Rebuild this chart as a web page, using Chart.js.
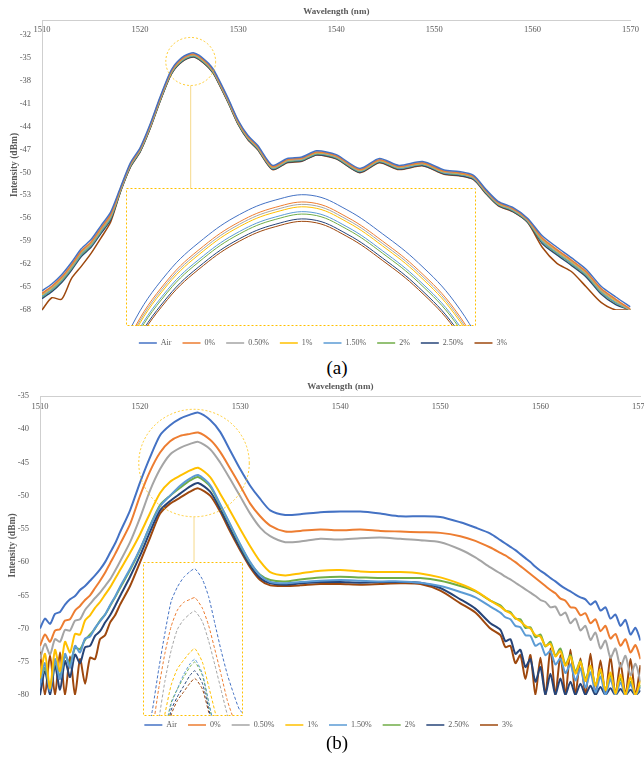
<!DOCTYPE html>
<html>
<head>
<meta charset="utf-8">
<script src="https://cdn.jsdelivr.net/npm/chart.js@4.4.1/dist/chart.umd.min.js"></script>
<style>
  body { margin: 0; background: #fff; width: 644px; height: 759px; overflow: hidden; position: relative; }
  canvas { position: absolute; display: block; }
  .inset { background: #fff; }
  .cap { position: absolute; left: 0; width: 674px; text-align: center; font-family: 'Liberation Serif', 'Times New Roman', serif; font-size: 19px; color: #000; line-height: 20px; }
</style>
</head>
<body>
<canvas id="chartA" width="644" height="357" style="left:0px;top:0px"></canvas>
<canvas id="insetA" class="inset" width="350" height="138" style="left:126px;top:188px"></canvas>
<div class="cap" style="top:358px">(a)</div>
<canvas id="chartB" width="655" height="361" style="left:0px;top:378px"></canvas>
<canvas id="insetB" class="inset" width="100" height="154" style="left:143px;top:562px"></canvas>
<div class="cap" style="top:733px">(b)</div>
<script>
const FONT = "'Liberation Serif', 'Times New Roman', serif";
const names = ['Air', '0%', '0.50%', '1%', '1.50%', '2%', '2.50%', '3%'];
const colors = ['#4472C4', '#ED7D31', '#A5A5A5', '#FFC000', '#5B9BD5', '#70AD47', '#264478', '#9E480E'];

const xTicks = [1510, 1520, 1530, 1540, 1550, 1560, 1570];
const yTicksA = [-68, -65, -62, -59, -56, -53, -50, -47, -44, -41, -38, -35, -32];
const yTicksB = [-80, -75, -70, -65, -60, -55, -50, -45, -40, -35];

// ---- panel (a) ----
const wlA = [1510, 1511, 1512, 1513, 1514, 1515, 1516, 1517,
  1518, 1519, 1520, 1521, 1522, 1523, 1523.5, 1524, 1524.5, 1525, 1525.5, 1526, 1526.5, 1527, 1527.5, 1528,
  1529, 1530, 1531, 1532, 1533.5, 1535, 1536.5, 1538, 1540, 1542.4, 1544.4, 1546.4, 1548.8, 1551, 1552.5, 1554, 1555.3, 1556.5, 1558, 1559.5,
  1561, 1562.5, 1564, 1565.5, 1567, 1568.5, 1570];
const airA = [-65.5, -64.6, -63.4, -61.8, -60.0, -58.8, -57.0, -55.2,
  -52.0, -48.8, -46.8, -43.8, -40.3, -37.1, -36.0, -35.3, -34.8, -34.5, -34.4, -34.7, -35.2, -35.8, -36.6, -37.8,
  -40.4, -43.2, -45.2, -46.5, -49.1, -48.2, -48.0, -47.2, -47.7, -49.5, -48.2, -49.1, -48.6, -49.7, -49.9, -50.4, -52.3, -53.8, -54.6, -56.0,
  -58.3, -59.8, -61.2, -62.7, -64.9, -66.3, -67.6];
const p0A = [-65.8, -64.9, -63.7, -62.1, -60.3, -59.1, -57.3, -55.5,
  -52.15, -48.95, -46.95, -43.95, -40.45, -37.25, -36.15, -35.45, -34.95, -34.65, -34.55, -34.85, -35.35, -35.95, -36.75, -37.95,
  -40.55, -43.35, -45.35, -46.65, -49.25, -48.35, -48.15, -47.35, -47.85, -49.65, -48.35, -49.25, -48.75, -49.85, -50.05, -50.55, -52.45, -53.95, -54.75, -56.15,
  -58.6, -60.1, -61.5, -63.0, -65.2, -66.6, -67.9];
const p05A = [-65.9, -65.0, -63.8, -62.2, -60.4, -59.2, -57.4, -55.6,
  -52.2, -49.0, -47.0, -44.0, -40.5, -37.3, -36.2, -35.5, -35.0, -34.7, -34.6, -34.9, -35.4, -36.0, -36.8, -38.0,
  -40.6, -43.4, -45.4, -46.7, -49.3, -48.4, -48.2, -47.4, -47.9, -49.7, -48.4, -49.3, -48.8, -49.9, -50.1, -50.6, -52.5, -54.0, -54.8, -56.2,
  -58.7, -60.2, -61.6, -63.1, -65.3, -66.7, -68.0];
const p1A = [-66.0, -65.1, -63.9, -62.3, -60.5, -59.3, -57.5, -55.7,
  -52.25, -49.05, -47.05, -44.05, -40.55, -37.35, -36.25, -35.55, -35.05, -34.75, -34.65, -34.95, -35.45, -36.05, -36.85, -38.05,
  -40.65, -43.45, -45.45, -46.75, -49.35, -48.45, -48.25, -47.45, -47.95, -49.75, -48.45, -49.35, -48.85, -49.95, -50.15, -50.65, -52.55, -54.05, -54.85, -56.25,
  -58.8, -60.3, -61.7, -63.2, -65.4, -66.8, -68.0];
const p15A = [-66.2, -65.3, -64.1, -62.5, -60.7, -59.5, -57.7, -55.9,
  -52.35, -49.15, -47.15, -44.15, -40.65, -37.45, -36.35, -35.65, -35.15, -34.85, -34.75, -35.05, -35.55, -36.15, -36.95, -38.15,
  -40.75, -43.55, -45.55, -46.85, -49.45, -48.55, -48.35, -47.55, -48.05, -49.85, -48.55, -49.45, -48.95, -50.05, -50.25, -50.75, -52.65, -54.15, -54.95, -56.35,
  -59.0, -60.5, -61.9, -63.4, -65.6, -67.0, -68.0];
const p2A = [-66.3, -65.4, -64.2, -62.6, -60.8, -59.6, -57.8, -56.0,
  -52.4, -49.2, -47.2, -44.2, -40.7, -37.5, -36.4, -35.7, -35.2, -34.9, -34.8, -35.1, -35.6, -36.2, -37.0, -38.2,
  -40.8, -43.6, -45.6, -46.9, -49.5, -48.6, -48.4, -47.6, -48.1, -49.9, -48.6, -49.5, -49.0, -50.1, -50.3, -50.8, -52.7, -54.2, -55.0, -56.4,
  -59.1, -60.6, -62.0, -63.5, -65.7, -67.1, -68.0];
const p25A = [-66.5, -65.6, -64.4, -62.8, -61.0, -59.8, -58.0, -56.2,
  -52.5, -49.3, -47.3, -44.3, -40.8, -37.6, -36.5, -35.8, -35.3, -35.0, -34.9, -35.2, -35.7, -36.3, -37.1, -38.3,
  -40.9, -43.7, -45.7, -47.0, -49.6, -48.7, -48.5, -47.7, -48.2, -50.0, -48.7, -49.6, -49.1, -50.2, -50.4, -50.9, -52.8, -54.3, -55.1, -56.5,
  -59.3, -60.8, -62.2, -63.7, -65.9, -67.3, -68.0];
const p3A = [-68.0, -66.4, -66.6, -63.9, -62.3, -60.6, -58.6, -56.5,
  -52.55, -49.35, -47.35, -44.35, -40.85, -37.65, -36.55, -35.85, -35.35, -35.05, -34.95, -35.25, -35.75, -36.35, -37.15, -38.35,
  -40.95, -43.75, -45.75, -47.05, -49.65, -48.75, -48.55, -47.75, -48.25, -50.05, -48.75, -49.65, -49.15, -50.25, -50.45, -50.95, -52.85, -54.35, -55.15, -56.55,
  -59.8, -61.9, -63.0, -65.0, -67.0, -68.0, -68.0];

// ---- panel (b) ----
const wlB = [1510, 1510.5, 1511, 1511.5, 1512, 1512.5, 1513, 1513.5, 1514, 1514.5, 1515, 1515.5, 1516, 1516.5, 1517, 1517.5, 1518,
  1519, 1520, 1521, 1522, 1523, 1524, 1525, 1525.8, 1527, 1528, 1529, 1530, 1531, 1532, 1533, 1534.5, 1536, 1538, 1540, 1542, 1544, 1546, 1548, 1550, 1552, 1553.5, 1555,
  1556, 1556.5, 1557, 1557.5, 1558, 1558.5, 1559, 1559.5, 1560, 1560.5, 1561, 1561.5, 1562, 1562.5, 1563, 1563.5, 1564, 1564.5, 1565, 1565.5, 1566, 1566.5, 1567, 1567.5, 1568, 1568.5, 1569, 1569.5, 1570];
const airB = [-70.0, -68.5, -69.3, -67.8, -67.5, -66.4, -65.6, -65.1, -64.2, -63.6, -62.8, -62.0, -61.1, -60.0, -58.6, -57.2, -55.5,
  -52.2, -48.0, -44.2, -40.9, -39.4, -38.4, -37.8, -37.5, -38.6, -40.4, -43.2, -46.0, -48.5, -50.5, -52.2, -52.9, -52.8, -52.5, -52.4, -52.4, -52.7, -53.1, -53.1, -53.2, -54.0, -54.8, -55.7,
  -56.7, -57.2, -57.7, -58.2, -58.8, -59.4, -60.0, -60.7, -61.3, -61.8, -62.4, -62.9, -63.5, -64.0, -64.4, -64.9, -65.3, -65.6, -66.4, -65.9, -67.3, -66.8, -68.5, -67.9, -69.6, -68.7, -70.9, -69.9, -71.8];
const p0B = [-72.6, -70.9, -72.0, -70.3, -70.1, -68.8, -68.6, -67.3, -66.6, -65.7, -65.0, -63.9, -62.8, -61.6, -60.2, -58.8, -57.3,
  -54.3, -50.0, -46.3, -43.5, -41.8, -41.0, -40.7, -40.5, -41.6, -43.4, -45.9, -48.5, -51.2, -53.1, -54.5, -55.4, -55.3, -55.1, -55.2, -55.1, -55.3, -55.4, -55.5, -55.6, -56.1, -56.8, -57.8,
  -58.6, -59.0, -59.5, -60.0, -60.6, -61.2, -61.8, -62.4, -63.0, -63.6, -64.2, -64.7, -65.5, -65.8, -66.8, -66.9, -68.0, -67.7, -69.2, -68.6, -70.4, -69.6, -71.5, -70.8, -72.6, -71.6, -73.6, -72.5, -74.6];
const p05B = [-74.6, -72.3, -73.9, -71.6, -72.0, -70.2, -70.3, -68.8, -68.6, -67.2, -66.3, -65.4, -64.6, -63.6, -62.6, -61.3, -59.9,
  -57.0, -53.3, -49.2, -46.0, -43.8, -42.8, -42.2, -41.9, -43.0, -45.0, -47.5, -50.1, -52.7, -54.8, -56.1, -57.0, -56.9, -56.5, -56.6, -56.4, -56.3, -56.5, -56.7, -57.0, -58.1, -59.3, -60.8,
  -61.7, -62.2, -62.6, -63.1, -63.6, -64.1, -64.6, -65.1, -65.7, -66.0, -66.8, -66.7, -68.0, -67.6, -69.2, -68.5, -70.3, -69.6, -71.7, -70.6, -73.0, -71.8, -74.4, -73.0, -75.8, -74.1, -77.0, -75.3, -78.0];
const p1B = [-77.5, -73.8, -79.0, -73.2, -76.4, -72.0, -73.6, -70.8, -70.9, -68.8, -68.0, -66.9, -66.0, -64.9, -63.8, -62.5, -61.2,
  -58.6, -55.8, -52.6, -49.6, -47.9, -47.0, -46.2, -45.8, -47.2, -49.7, -52.3, -55.0, -57.6, -59.9, -61.5, -62.0, -61.7, -61.3, -61.2, -61.4, -61.5, -61.5, -61.7, -62.3, -63.3, -64.3, -65.8,
  -66.7, -67.3, -67.7, -68.4, -68.9, -69.6, -70.0, -71.0, -71.2, -72.6, -72.3, -74.2, -73.4, -75.6, -74.2, -76.8, -75.0, -77.9, -75.6, -78.6, -76.1, -79.3, -76.6, -79.8, -76.9, -80.0, -77.3, -80.0, -77.8];
const p15B = [-78.6, -75.2, -79.4, -74.6, -77.6, -73.8, -75.9, -72.6, -73.6, -71.5, -71.2, -69.9, -68.9, -67.9, -66.5, -65.2, -63.7,
  -61.0, -58.0, -54.6, -51.6, -50.0, -48.5, -47.4, -46.9, -48.4, -51.3, -54.3, -57.3, -60.0, -62.0, -63.0, -63.2, -63.0, -62.8, -62.7, -62.8, -62.9, -62.9, -63.1, -63.6, -64.5, -65.3, -66.7,
  -67.6, -68.3, -68.6, -69.6, -69.8, -71.0, -71.1, -72.6, -72.2, -74.0, -73.4, -75.4, -74.5, -76.7, -75.4, -77.8, -76.0, -78.9, -76.6, -79.6, -77.2, -80.0, -77.6, -80.0, -78.1, -80.0, -78.4, -80.0, -78.8];
const p2B = [-77.9, -75.9, -78.8, -75.0, -77.2, -74.1, -75.3, -72.9, -73.1, -71.7, -70.9, -70.0, -68.8, -67.9, -66.6, -65.3, -63.9,
  -61.2, -58.1, -54.5, -51.4, -50.0, -48.8, -47.7, -47.2, -48.6, -51.4, -54.4, -57.4, -60.1, -61.9, -62.7, -62.9, -62.6, -62.3, -62.2, -62.3, -62.4, -62.4, -62.4, -62.8, -63.6, -64.4, -65.8,
  -66.5, -67.3, -67.5, -68.5, -68.6, -69.9, -69.8, -71.3, -70.9, -72.7, -72.0, -74.1, -73.0, -75.4, -74.0, -76.5, -74.9, -77.6, -75.7, -78.5, -76.4, -79.2, -77.0, -79.7, -77.5, -80.0, -78.0, -80.0, -78.5];
const p25B = [-80.0, -76.4, -80.0, -75.6, -79.2, -74.9, -77.3, -73.9, -75.2, -72.8, -72.6, -71.1, -70.4, -69.1, -68.0, -66.6, -65.1,
  -62.2, -59.0, -55.4, -52.2, -50.8, -49.7, -48.6, -48.1, -49.4, -52.0, -55.0, -57.9, -60.5, -62.4, -63.2, -63.4, -63.2, -63.0, -63.0, -63.1, -63.0, -63.0, -63.1, -63.9, -65.6, -67.0, -69.2,
  -70.2, -71.9, -71.6, -73.8, -73.2, -75.8, -74.6, -78.0, -75.8, -80.0, -76.8, -80.0, -77.5, -80.0, -78.0, -80.0, -78.3, -80.0, -78.6, -80.0, -78.8, -80.0, -79.0, -80.0, -79.1, -80.0, -79.2, -80.0, -79.3];
const p3B = [-73.5, -80.0, -74.0, -80.0, -73.6, -80.0, -74.2, -80.0, -74.6, -78.3, -74.4, -74.6, -71.6, -71.0, -69.1, -68.0, -66.4,
  -63.6, -60.0, -56.3, -52.7, -51.2, -50.3, -49.4, -48.9, -50.0, -52.4, -55.4, -58.2, -60.8, -62.7, -63.5, -63.6, -63.5, -63.3, -63.3, -63.4, -63.3, -63.2, -63.3, -64.3, -66.2, -67.6, -70.0,
  -71.0, -72.8, -72.6, -75.2, -74.0, -77.6, -74.0, -80.0, -74.4, -80.0, -73.0, -80.0, -74.0, -80.0, -73.2, -80.0, -74.5, -80.0, -73.8, -80.0, -74.8, -80.0, -74.2, -80.0, -75.2, -80.0, -74.6, -80.0, -75.5];

const seriesA = [airA, p0A, p05A, p1A, p15A, p2A, p25A, p3A];
const seriesB = [airB, p0B, p05B, p1B, p15B, p2B, p25B, p3B];

function toPoints(wl, vals) {
  return wl.map((x, i) => ({ x: x, y: vals[i] }));
}

// dashed circle round the peak and the thin line down to the zoom box
const zoomMark = {
  id: 'zoomMark',
  afterDatasetsDraw(chart, args, o) {
    if (!o || o.cx === undefined) return;
    const { ctx } = chart;
    const x = chart.scales.x, y = chart.scales.y;
    const px = x.getPixelForValue(o.cx), py = y.getPixelForValue(o.cy);
    const rx = Math.abs(x.getPixelForValue(o.cx + o.rx) - px);
    const ry = Math.abs(y.getPixelForValue(o.cy + o.ry) - py);
    ctx.save();
    ctx.strokeStyle = '#FFC000';
    ctx.lineWidth = 0.8;
    ctx.setLineDash([2, 2]);
    ctx.beginPath();
    ctx.ellipse(px, py, rx, ry, 0, 0, Math.PI * 2);
    ctx.stroke();
    ctx.setLineDash([]);
    ctx.strokeStyle = '#F6D98A';
    ctx.lineWidth = 1;
    ctx.beginPath();
    ctx.moveTo(px, py + ry);
    ctx.lineTo(px, o.toY);
    ctx.stroke();
    ctx.restore();
  }
};

const insetFrame = {
  id: 'insetFrame',
  afterDraw(chart) {
    const { ctx, width, height } = chart;
    ctx.save();
    ctx.strokeStyle = '#FFC000';
    ctx.lineWidth = 1;
    ctx.setLineDash([2, 2]);
    ctx.strokeRect(0.5, 0.5, width - 1, height - 1);
    ctx.restore();
  }
};

function mainChart(id, wl, series, cfg) {
  return new Chart(document.getElementById(id), {
    type: 'line',
    data: {
      datasets: series.map((vals, i) => ({
        label: names[i],
        data: toPoints(wl, vals),
        borderColor: colors[i],
        backgroundColor: colors[i],
        borderWidth: cfg.lineWidth,
        pointRadius: 0,
        tension: 0.25,
        fill: false
      }))
    },
    options: {
      responsive: false,
      animation: false,
      events: [],
      layout: { padding: { left: 14, right: cfg.padRight, top: 0, bottom: 0 } },
      scales: {
        x: {
          type: 'linear',
          position: 'top',
          min: 1510,
          max: 1570,
          grid: { display: false, drawTicks: false },
          border: { display: true, color: '#CFCFCF' },
          afterBuildTicks: s => { s.ticks = xTicks.map(v => ({ value: v })); },
          afterFit: s => { s.height = cfg.xHeight; },
          // mirror puts the labels just under the top axis line, inside the plot
          ticks: { mirror: true, padding: cfg.xTickPad, color: '#595959', font: { family: FONT, size: 8.5 }, maxRotation: 0, autoSkip: false, callback: v => String(v) },
          title: { display: true, text: 'Wavelength (nm)', color: '#595959', font: { family: FONT, size: 9, weight: 'bold' }, padding: { top: cfg.titlePad, bottom: 0 } }
        },
        y: {
          type: 'linear',
          min: cfg.yMin,
          max: cfg.yMax,
          grid: { display: false, drawTicks: false },
          border: { display: true, color: '#CFCFCF' },
          afterBuildTicks: s => { s.ticks = cfg.yTicks.map(v => ({ value: v })); },
          afterFit: s => { s.width = cfg.yWidth; },
          ticks: { padding: 11, color: '#595959', font: { family: FONT, size: 8.5 }, autoSkip: false, callback: v => String(v) },
          title: { display: true, text: 'Intensity (dBm)', color: '#595959', font: { family: FONT, size: 9.5, weight: 'bold' }, padding: { top: cfg.yTitlePad, bottom: 0 } }
        }
      },
      plugins: {
        legend: {
          position: 'bottom',
          title: { display: true, text: '', font: { size: cfg.legendGap }, padding: 0 },
          labels: {
            boxWidth: 18,
            boxHeight: 1.5,
            padding: 11,
            color: '#595959',
            font: { family: FONT, size: 8 },
            generateLabels: c => Chart.defaults.plugins.legend.labels.generateLabels(c).map(l => Object.assign(l, { lineWidth: 0 }))
          }
        },
        tooltip: { enabled: false },
        zoomMark: cfg.mark
      }
    },
    plugins: [zoomMark]
  });
}

function insetChart(id, wl, series, cfg) {
  return new Chart(document.getElementById(id), {
    type: 'line',
    data: {
      datasets: series.map((vals, i) => ({
        data: toPoints(wl, vals),
        borderColor: colors[i],
        borderWidth: 1,
        borderDash: cfg.dash,
        pointRadius: 0,
        tension: cfg.tension,
        fill: false
      }))
    },
    options: {
      responsive: false,
      animation: false,
      events: [],
      layout: { padding: 0 },
      scales: {
        x: { type: 'linear', display: false, min: cfg.xMin, max: cfg.xMax },
        y: { type: 'linear', display: false, min: cfg.yMin, max: cfg.yMax }
      },
      plugins: { legend: { display: false }, tooltip: { enabled: false } }
    },
    plugins: [insetFrame]
  });
}

mainChart('chartA', wlA, seriesA, {
  lineWidth: 1.5, padRight: 12, xHeight: 20, xTickPad: 5, titlePad: 6,
  yMin: -68, yMax: -30.1, yTicks: yTicksA, yWidth: 28, yTitlePad: -4.7, legendGap: 15,
  mark: { cx: 1525.16, cy: -35.52, rx: 2.54, ry: 3.14, toY: 188 }
});
insetChart('insetA', wlA, seriesA, { dash: [], tension: 0.4, xMin: 1522.92, xMax: 1527.8, yMin: -37.1, yMax: -34.25 });

mainChart('chartB', wlB, seriesB, {
  lineWidth: 2, padRight: 12, xHeight: 18, xTickPad: 6, titlePad: 3.6,
  yMin: -80, yMax: -35, yTicks: yTicksB, yWidth: 26, yTitlePad: -7.2, legendGap: 12.5,
  mark: { cx: 1525.39, cy: -45.09, rx: 5.52, ry: 8.09, toY: 184 }
});
insetChart('insetB', wlB, seriesB, { dash: [3, 2], tension: 0.2, xMin: 1517.5, xMax: 1533.5, yMin: -52.8, yMax: -36.8 });
</script>
</body>
</html>
